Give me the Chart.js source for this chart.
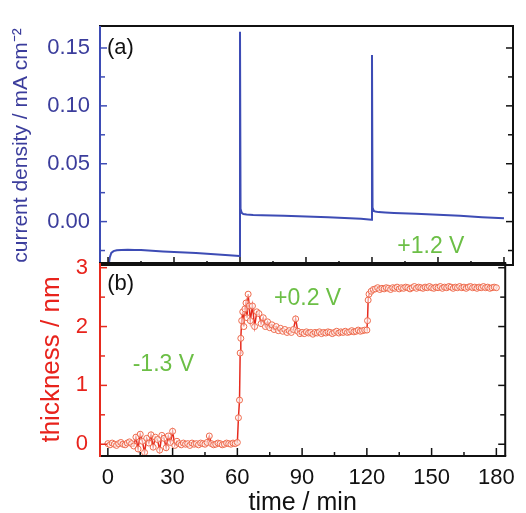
<!DOCTYPE html>
<html><head><meta charset="utf-8">
<script src="https://cdn.jsdelivr.net/npm/chart.js@4/dist/chart.umd.min.js"></script>
<style>
html,body{margin:0;padding:0;background:#fff;overflow:hidden;width:526px;height:513px;}
#wrap{position:relative;width:526px;height:513px;background:#fff;overflow:hidden;}
.box{position:absolute;left:0;width:526px;}
</style></head><body>
<div id="wrap">
<div class="box" style="top:0;height:286px"><canvas id="cA"></canvas></div>
<div class="box" style="top:240px;height:276px"><canvas id="cB"></canvas></div>
</div>
<script>
// ---- data ----
const xTickValues = [0, 30, 60, 90, 120, 150, 180];
const xMinorTicks = [15, 45, 75, 105, 135, 165];
const curTicks = [0.00, 0.05, 0.10, 0.15];
const curMinorTicks = [-0.025, 0.025, 0.075, 0.125];
const thkTicks = [0, 1, 2, 3];
const thkMinorTicks = [0.5, 1.5, 2.5];

const curTime = [0.3, 0.8, 1.5, 2.5, 4, 6, 9, 12, 15, 20, 25, 30, 35, 40, 45, 50, 55, 59.8,
  60, 60.25, 60.8, 61.5, 63, 66, 70, 75, 80, 90, 100, 110, 115, 119.8,
  120, 120.25, 120.8, 121.5, 123, 126, 130, 140, 150, 160, 170, 180];
const curDensity = [-0.0375, -0.031, -0.027, -0.0255, -0.0248, -0.0245, -0.0244, -0.0246, -0.0245, -0.0252, -0.0258, -0.0262, -0.0268, -0.0272, -0.0278, -0.0284, -0.029, -0.0298,
  0.164, 0.011, 0.0075, 0.0066, 0.0062, 0.0058, 0.0055, 0.0053, 0.005, 0.0045, 0.0038, 0.003, 0.0025, 0.0016,
  0.144, 0.012, 0.0092, 0.0088, 0.0082, 0.0078, 0.0074, 0.0068, 0.006, 0.005, 0.0038, 0.0028];

const thkTime = [0,1,2,3,4,5,6,7,8,9,10,11,12,13,14,15,16,17,18,19,20,21,22,23,24,25,26,27,28,29,30,31,32,33,34,35,36,37,38,39,40,41,42,43,44,45,46,47,48,49,50,51,52,53,54,55,56,57,58,59,
  60,60.5,61,61.3,61.6,62,62.5,63,63.5,64,64.5,65,65.5,66,67,68,69,70,71,72,73,74,75,76,77,78,79,80,81,82,83,84,85,86,87,88,89,
  90,91,92,93,94,95,96,97,98,99,100,101,102,103,104,105,106,107,108,109,110,111,112,113,114,115,116,117,118,119,
  120,120.3,120.6,121,122,123,124,125,126,127,128,129,130,131,132,133,134,135,136,137,138,139,140,141,142,143,144,145,146,147,148,149,
  150,151,152,153,154,155,156,157,158,159,160,161,162,163,164,165,166,167,168,169,170,171,172,173,174,175,176,177,178,179,180];
const thickness = [0.01,-0.01,0.02,0.0,-0.02,0.01,0.03,0.0,-0.01,0.02,0.04,0.01,-0.03,0.12,-0.08,0.17,0.05,-0.14,0.1,0.02,0.16,-0.05,0.12,0.08,-0.1,0.15,0.1,-0.06,0.14,0.03,0.22,-0.02,0.05,0.01,-0.01,0.02,0.0,0.01,-0.02,0.02,0.0,0.01,-0.01,0.02,0.01,0.0,0.03,0.14,0.01,-0.01,0.0,0.02,0.01,-0.01,0.0,0.02,0.01,0.0,0.02,0.01,
  0.03,0.45,0.75,1.55,1.8,2.1,2.25,2.0,2.3,2.4,2.15,2.55,2.35,2.1,2.35,2.0,2.25,2.22,2.05,2.15,2.0,2.08,1.98,2.03,1.95,2.0,1.93,1.97,1.92,1.95,1.9,1.93,1.9,1.95,2.13,1.92,1.88,
  1.9,1.88,1.91,1.89,1.9,1.87,1.9,1.89,1.91,1.88,1.9,1.89,1.91,1.9,1.88,1.9,1.92,1.89,1.91,1.9,1.92,1.9,1.91,1.93,1.91,1.92,1.94,1.92,1.93,1.94,
  1.94,2.1,2.45,2.55,2.6,2.63,2.64,2.66,2.63,2.65,2.64,2.66,2.65,2.63,2.66,2.65,2.67,2.64,2.66,2.65,2.67,2.66,2.64,2.66,2.68,2.65,2.67,2.66,2.65,2.67,2.66,2.68,
  2.66,2.65,2.67,2.66,2.68,2.65,2.67,2.66,2.68,2.67,2.65,2.67,2.66,2.68,2.66,2.67,2.65,2.67,2.68,2.66,2.67,2.65,2.67,2.66,2.68,2.66,2.67,2.65,2.66,2.67,2.66];

const notesA = [
  {text: '(a)', t: -0.5, v: 0.15, color: '#111', size: 22},
  {text: '+1.2 V', t: 131.5, v: -0.0215, color: '#6cbf46', size: 23}
];
const notesB = [
  {text: '(b)', t: -0.3, v: 2.72, color: '#111', size: 22},
  {text: '+0.2 V', t: 77, v: 2.47, color: '#6cbf46', size: 23},
  {text: '-1.3 V', t: 11.5, v: 1.36, color: '#6cbf46', size: 23}
];

// ---- styling ----
const FONT = '"Liberation Sans", Arial, sans-serif';
const BLUE_TXT = '#3b3d9c';
const BLUE_LINE = '#3d4cb5';
const RED_TXT = '#e8231c';
const RED_LINE = '#e62a1e';
const MARK = '#ee6a4c';
Chart.defaults.font.family = FONT;
Chart.defaults.animation = false;

const framePlugin = {
  id: 'frame',
  afterDatasetsDraw(chart, args, o) {
    const {ctx, chartArea: {left, right, top, bottom}} = chart;
    const xs = chart.scales.x, ys = chart.scales.y;
    ctx.save();
    ctx.lineCap = 'butt';
    const seg = (c, w, x1, y1, x2, y2) => {
      ctx.strokeStyle = c; ctx.lineWidth = w;
      ctx.beginPath(); ctx.moveTo(x1, y1); ctx.lineTo(x2, y2); ctx.stroke();
    };
    o.yMajor.forEach(v => {
      const p = ys.getPixelForValue(v);
      seg(o.leftColor, 1.5, left, p, left + 7, p);
      seg('#111', 1.5, right, p, right - 7, p);
    });
    o.yMinor.forEach(v => {
      const p = ys.getPixelForValue(v);
      seg(o.leftColor, 1.5, left, p, left + 5, p);
      seg('#111', 1.5, right, p, right - 5, p);
    });
    o.xMajor.forEach(v => {
      const p = xs.getPixelForValue(v);
      seg('#111', 1.5, p, bottom, p, bottom - 8);
    });
    o.xMinor.forEach(v => {
      const p = xs.getPixelForValue(v);
      seg('#111', 1.5, p, bottom, p, bottom - 4);
    });
    seg('#111', 2, left - 1, top, right + 1, top);
    seg('#111', 2, right, top, right, bottom);
    seg('#111', 2, left - 1, bottom, right + 1, bottom);
    seg(o.leftColor, 2, left, top, left, bottom + 1);
    ctx.restore();
  }
};

const notesPlugin = {
  id: 'notes',
  afterDraw(chart, args, o) {
    const {ctx} = chart;
    const xs = chart.scales.x, ys = chart.scales.y;
    ctx.save();
    o.items.forEach(n => {
      ctx.font = n.size + 'px ' + FONT;
      ctx.fillStyle = n.color;
      ctx.textAlign = 'left';
      ctx.textBaseline = 'middle';
      ctx.fillText(n.text, xs.getPixelForValue(n.t), ys.getPixelForValue(n.v));
    });
    ctx.restore();
  }
};

const pts = (xa, ya) => xa.map((x, i) => ({x: x, y: ya[i]}));

new Chart(document.getElementById('cA'), {
  type: 'line',
  data: {datasets: [{
    data: pts(curTime, curDensity),
    borderColor: BLUE_LINE, borderWidth: 2, pointRadius: 0, tension: 0, fill: false
  }]},
  options: {
    responsive: true, maintainAspectRatio: false,
    layout: {padding: {left: 0, right: 13, top: 26, bottom: 0}},
    plugins: {
      legend: {display: false}, tooltip: {enabled: false},
      frame: {leftColor: BLUE_LINE, yMajor: curTicks, yMinor: curMinorTicks, xMajor: xTickValues, xMinor: xMinorTicks},
      notes: {items: notesA}
    },
    scales: {
      x: {type: 'linear', min: -3.64, max: 184.1, display: false},
      y: {
        min: -0.0375, max: 0.169,
        afterFit: s => { s.width = 100; },
        grid: {display: false, drawTicks: false}, border: {display: false},
        ticks: {stepSize: 0.05, includeBounds: false, color: BLUE_TXT, padding: 10,
          font: {size: 22, lineHeight: 1}, callback: v => Number(v).toFixed(2)},
        title: {display: true, text: 'current density / mA cm⁻²', color: BLUE_TXT,
          font: {size: 21, lineHeight: 1.2}, padding: {top: 9, bottom: 0}}
      }
    }
  },
  plugins: [framePlugin, notesPlugin]
});

new Chart(document.getElementById('cB'), {
  type: 'line',
  data: {datasets: [{
    data: pts(thkTime, thickness),
    borderColor: RED_LINE, borderWidth: 1.5, tension: 0, fill: false,
    pointRadius: 3, pointBorderWidth: 1, pointBorderColor: MARK, pointBackgroundColor: 'rgba(255,255,255,0.55)'
  }]},
  options: {
    responsive: true, maintainAspectRatio: false,
    layout: {padding: {left: 0, right: 13, top: 23, bottom: 0}},
    plugins: {
      legend: {display: false}, tooltip: {enabled: false},
      frame: {leftColor: RED_LINE, yMajor: thkTicks, yMinor: thkMinorTicks, xMajor: xTickValues, xMinor: xMinorTicks},
      notes: {items: notesB}
    },
    scales: {
      x: {
        type: 'linear', min: -3.64, max: 184.1,
        grid: {display: false, drawTicks: false}, border: {display: false},
        ticks: {stepSize: 30, includeBounds: false, color: '#111', padding: 11, maxRotation: 0,
          font: {size: 22, lineHeight: 1}},
        title: {display: true, text: 'time / min', color: '#111',
          font: {size: 25, lineHeight: 1}, padding: {top: -9, bottom: 0}}
      },
      y: {
        min: -0.2, max: 3.08,
        afterFit: s => { s.width = 100; },
        grid: {display: false, drawTicks: false}, border: {display: false},
        ticks: {stepSize: 1, includeBounds: false, color: RED_TXT, padding: 12,
          font: {size: 22, lineHeight: 1}},
        title: {display: true, text: 'thickness / nm', color: RED_TXT,
          font: {size: 26, lineHeight: 1.2}, padding: {top: 36, bottom: 0}}
      }
    }
  },
  plugins: [framePlugin, notesPlugin]
});
</script>
</body></html>
